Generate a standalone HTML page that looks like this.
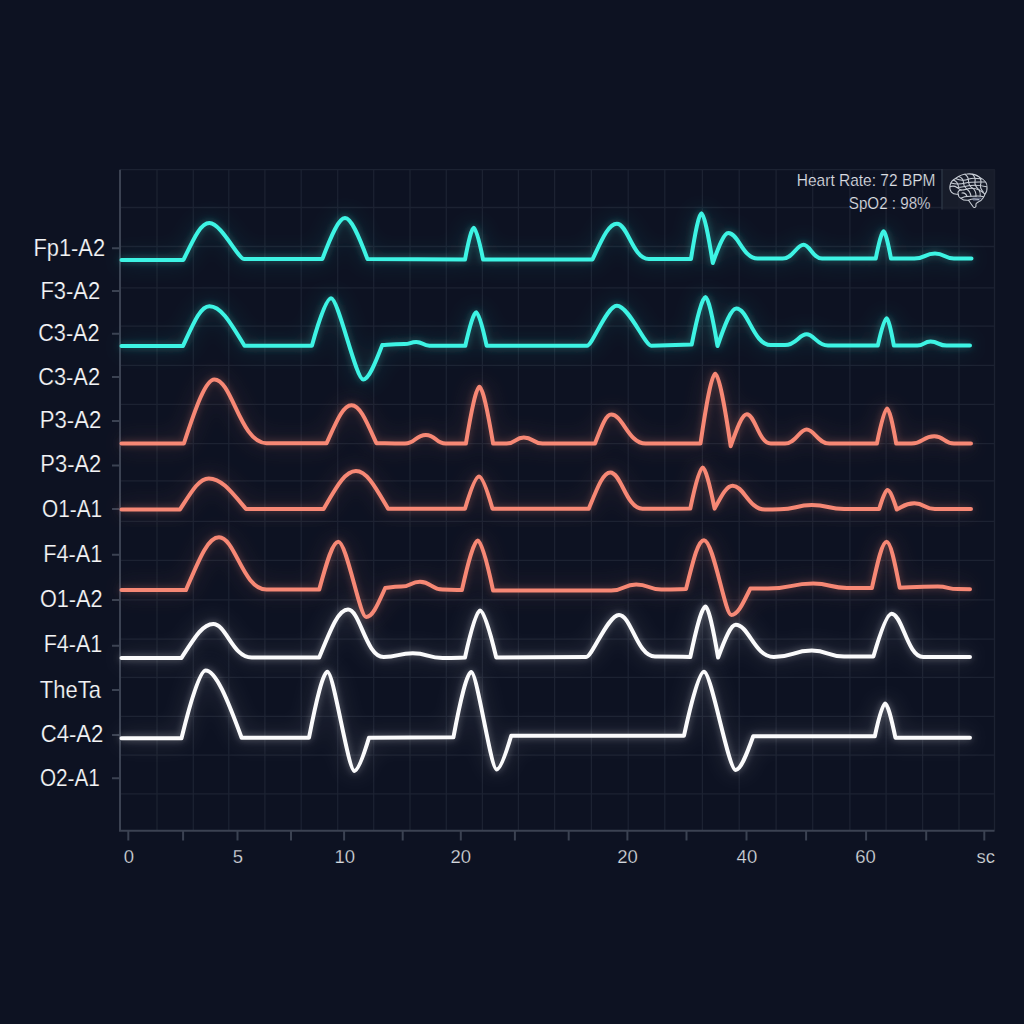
<!DOCTYPE html>
<html><head><meta charset="utf-8"><style>
html,body{margin:0;padding:0;background:#0d1222;width:1024px;height:1024px;overflow:hidden}
svg{display:block}
text{font-family:"Liberation Sans",sans-serif}
.yl{font-size:24px;fill:#f3f4f6;stroke:#0d1222;stroke-width:0.2px}
.xl{font-size:18.5px;fill:#d4d8de;stroke:#0d1222;stroke-width:0.25px}
.hd{font-size:16px;fill:#dcdfe4;stroke:#0d1222;stroke-width:0.2px}
</style></head><body>
<svg width="1024" height="1024" viewBox="0 0 1024 1024">
<defs>
<filter id="glow" x="-10%" y="-40%" width="120%" height="180%">
<feGaussianBlur in="SourceGraphic" stdDeviation="3.5" result="b1"/>
<feComponentTransfer in="b1" result="c1"><feFuncA type="linear" slope="0.35"/></feComponentTransfer>
<feGaussianBlur in="SourceGraphic" stdDeviation="11" result="b2"/>
<feComponentTransfer in="b2" result="c2"><feFuncA type="linear" slope="0.3"/></feComponentTransfer>
<feMerge><feMergeNode in="c2"/><feMergeNode in="c1"/><feMergeNode in="SourceGraphic"/></feMerge>
</filter>
</defs>
<rect width="1024" height="1024" fill="#0d1222"/>
<path d="M120,169.7H994.5M120,207.5H994.5M120,246.5H994.5M120,287.8H994.5M120,326.2H994.5M120,365.4H994.5M120,404.4H994.5M120,443.6H994.5M120,480.9H994.5M120,521.3H994.5M120,560.3H994.5M120,599.9H994.5M120,639.1H994.5M120,677.3H994.5M120,716.4H994.5M120,755.1H994.5M120,793.9H994.5M157.0,169.7V830.7M193.3,169.7V830.7M228.8,169.7V830.7M264.9,169.7V830.7M301.2,169.7V830.7M337.7,169.7V830.7M373.7,169.7V830.7M410.0,169.7V830.7M446.3,169.7V830.7M482.4,169.7V830.7M518.4,169.7V830.7M554.6,169.7V830.7M591.4,169.7V830.7M628.2,169.7V830.7M664.8,169.7V830.7M702.4,169.7V830.7M739.2,169.7V830.7M776.1,169.7V830.7M812.7,169.7V830.7M849.9,169.7V830.7M886.1,169.7V830.7M922.6,169.7V830.7M959.0,169.7V830.7M994.5,169.7V830.7" stroke="#1c2232" stroke-width="1.3" fill="none"/>
<path d="M120,169.7V830.7H994.5" stroke="#3b4252" stroke-width="2" fill="none"/>
<path d="M112,248.2H120M112,291.1H120M112,333.7H120M112,377.1H120M112,421.1H120M112,465.4H120M112,509.0H120M112,554.7H120M112,599.9H120M112,645.8H120M112,690H120M112,735H120M112,778.3H120M128.3,830.7V840.5M183.1,830.7V840.5M237.5,830.7V840.5M291,830.7V840.5M344.1,830.7V840.5M402.7,830.7V840.5M460.8,830.7V840.5M514.9,830.7V840.5M568.7,830.7V840.5M627.4,830.7V840.5M686.5,830.7V840.5M746.5,830.7V840.5M806.1,830.7V840.5M866.1,830.7V840.5M926.2,830.7V840.5M984.3,830.7V840.5" stroke="#3b4252" stroke-width="2" fill="none"/>
<path transform="translate(0,0.6)" d="M121.5,259.3L183.4,259.3C193.8,237.9 200.6,222.4 209.4,222.4C221.3,222.4 238.1,258.5 244.4,258.5L322.4,258.3C331.4,234.6 338.7,217.5 345.0,217.5C351.3,217.5 358.5,234.7 367.5,258.5L465.0,259.0C468.5,240.6 471.7,227.2 473.8,227.2C475.9,227.2 479.4,240.6 483.1,259.0L592.5,258.8C602.3,238.1 608.6,223.1 616.9,223.1C627.7,223.1 632.8,258.4 648.8,258.4C669.9,258.4 674.1,258.4 691.0,258.3C695.2,231.8 699.0,212.6 701.4,212.6C704.0,212.6 708.2,233.5 712.8,262.4C719.0,245.1 724.0,232.5 728.3,232.5C738.3,232.5 743.0,258.0 757.6,258.0C770.0,258.0 770.0,258.0 782.5,258.0C793.0,258.0 796.4,244.2 803.6,244.2C809.9,244.2 812.9,258.0 822.1,258.0C848.9,258.0 854.3,258.0 875.7,258.0C878.9,242.2 881.8,230.7 883.6,230.7C885.3,230.7 888.0,242.2 891.0,258.0C900.4,258.0 902.7,258.0 914.4,258.0C924.7,258.0 924.7,253.0 935.0,253.0C944.5,253.0 944.5,258.0 954.0,258.0C962.8,258.0 964.5,258.0 971.5,258.0" stroke="#3ef4e4" stroke-width="4" fill="none" stroke-linecap="round" stroke-linejoin="round" filter="url(#glow)"/>
<path transform="translate(0,0.1)" d="M121.5,345.9L183.0,345.9C193.6,322.8 200.4,306.1 209.4,306.1C221.3,306.1 230.5,322.7 244.5,345.6L311.9,345.6C319.5,318.1 326.6,298.2 331.0,298.2C338.4,298.2 355.8,379.3 363.2,379.3C368.5,379.3 374.6,364.9 382.2,345.0C391.1,344.4 393.3,344.0 404.4,344.0C410.3,344.0 410.3,341.9 416.2,341.9C422.8,341.9 422.8,345.6 429.4,345.6C447.4,345.6 450.9,345.6 465.3,345.6C469.7,326.2 473.7,312.2 476.2,312.2C478.6,312.2 482.5,326.2 486.6,345.6L587.0,345.6C592.4,345.6 606.7,305.6 616.9,305.6C628.6,305.6 645.1,345.6 651.2,345.6L691.7,344.5C697.2,316.9 702.3,297.0 705.5,297.0C708.3,297.0 712.7,317.5 717.5,345.9C725.0,324.1 731.0,308.4 736.3,308.4C748.0,308.4 753.5,345.0 770.8,345.0C777.9,345.0 777.9,345.0 785.0,345.0C795.8,345.0 799.3,334.2 806.6,334.2C813.9,334.2 817.3,345.5 828.0,345.5C852.9,345.5 857.9,345.5 877.8,345.5C881.3,329.6 884.6,318.1 886.6,318.1C888.3,318.1 891.0,329.6 893.9,345.5C903.3,345.5 905.6,345.5 917.3,345.5C923.9,345.5 923.9,341.5 930.5,341.5C938.5,341.5 938.5,345.5 946.6,345.5C958.3,345.5 960.6,345.5 970.0,345.5" stroke="#3ef4e4" stroke-width="4" fill="none" stroke-linecap="round" stroke-linejoin="round" filter="url(#glow)"/>
<path transform="translate(0,0.6)" d="M121.5,442.9L183.9,442.9C196.1,405.7 205.8,378.8 214.3,378.8C232.0,378.8 240.4,442.6 266.5,442.6C296.6,442.6 302.6,442.6 326.6,442.6C336.6,420.6 343.0,404.6 351.5,404.6C360.0,404.6 366.4,420.6 376.4,442.6C387.8,442.8 390.7,443.0 405.0,443.0C415.4,443.0 415.4,434.4 425.9,434.4C435.8,434.4 435.8,443.0 445.6,443.0C455.8,443.0 457.8,443.0 465.9,443.0C471.3,410.1 476.3,386.2 479.4,386.2C482.6,386.2 487.6,410.1 493.1,443.0C498.5,443.0 499.9,443.0 506.6,443.0C515.2,443.0 515.2,436.9 523.8,436.9C533.1,436.9 533.1,443.0 542.5,443.0C568.8,443.0 574.0,443.0 595.0,443.0C601.5,426.2 605.7,414.0 611.2,414.0C622.9,414.0 628.4,443.0 645.6,443.0C673.0,443.0 678.5,443.0 700.5,442.9C706.4,402.5 711.8,373.2 715.2,373.2C718.8,373.2 724.5,403.6 730.7,445.6C737.1,427.0 742.3,413.6 746.8,413.6C755.0,413.6 758.8,442.9 770.8,442.9C777.9,442.9 777.9,443.0 785.0,443.0C795.8,443.0 799.3,428.9 806.6,428.9C814.4,428.9 818.0,443.0 829.4,443.0C853.1,443.0 857.9,443.0 876.9,443.0C881.0,422.6 884.8,407.8 887.1,407.8C889.2,407.8 892.6,422.6 896.2,443.0C902.3,443.0 903.9,443.0 911.5,443.0C922.9,443.0 922.9,435.6 934.3,435.6C944.1,435.6 944.1,443.0 954.0,443.0C962.5,443.0 964.2,443.0 971.0,443.0" stroke="#f78874" stroke-width="4" fill="none" stroke-linecap="round" stroke-linejoin="round" filter="url(#glow)"/>
<path transform="translate(0,0.0)" d="M121.5,509.5L180.0,509.5C191.5,491.5 199.0,478.4 208.8,478.4C221.4,478.4 231.1,491.3 246.0,509.0L323.6,509.0C336.5,487.0 344.9,471.1 355.9,471.1C366.8,471.1 375.2,486.9 388.1,508.8L465.0,508.8C470.6,490.1 475.8,476.6 479.0,476.6C482.1,476.6 487.1,490.1 492.5,508.8L588.8,508.8C597.4,487.7 603.0,472.5 610.3,472.5C621.2,472.5 626.4,508.8 642.5,508.8C666.4,508.8 671.2,508.7 690.3,508.6C695.2,484.8 699.8,467.6 702.6,467.6C705.4,467.6 709.8,484.8 714.6,508.6C721.8,495.3 726.5,485.7 732.7,485.7C743.7,485.7 748.9,509.5 765.0,509.5C772.5,509.5 772.5,509.3 780.0,509.3C795.9,509.3 795.9,505.1 811.8,505.1C828.0,505.1 828.0,509.0 844.1,509.0C861.7,509.0 865.2,509.0 879.2,509.0C882.5,498.0 885.5,490.1 887.4,490.1C890.0,490.1 893.0,498.2 896.8,509.5C903.8,505.9 905.6,503.3 914.4,503.3C924.6,503.3 924.6,509.0 934.9,509.0C953.0,509.0 956.6,509.0 971.0,509.0" stroke="#f78874" stroke-width="4" fill="none" stroke-linecap="round" stroke-linejoin="round" filter="url(#glow)"/>
<path transform="translate(0,0.6)" d="M121.5,589.5L185.9,589.5C199.1,558.9 207.7,536.7 219.0,536.7C235.2,536.7 242.8,588.9 266.5,588.9C292.9,588.9 298.1,588.9 319.2,589.0C326.8,561.2 332.6,541.1 338.3,541.1C346.6,541.1 359.7,616.4 366.1,616.4C372.6,616.4 377.6,604.2 385.2,587.4C391.6,586.6 393.2,586.0 401.3,586.0C410.6,586.0 410.6,581.2 420.0,581.2C431.2,581.2 431.2,589.0 442.5,589.0C452.2,589.0 454.1,589.2 461.9,589.5C468.3,560.8 474.1,540.0 477.8,540.0C481.3,540.0 487.0,561.0 493.1,590.0C540.4,590.0 552.2,590.0 611.2,590.0C623.8,590.0 623.8,583.8 636.2,583.8C648.8,583.8 648.8,589.0 661.2,589.0C673.6,589.0 676.1,588.8 686.0,588.5C693.2,560.1 697.9,539.6 704.0,539.6C713.3,539.6 725.0,614.4 731.3,614.4C737.8,614.4 742.7,603.3 750.3,588.0C757.3,588.0 759.1,588.0 767.9,588.0C790.6,588.0 790.6,583.0 813.3,583.0C830.1,583.0 830.1,587.4 847.0,587.4C859.5,587.4 861.9,587.4 871.9,587.5C877.8,560.6 882.2,541.1 886.6,541.1C890.5,541.1 894.5,560.4 899.7,587.1C914.9,586.5 918.8,586.0 937.8,586.0C947.9,586.0 947.9,588.5 958.0,588.5C964.0,588.5 965.2,588.5 970.0,588.6" stroke="#f78874" stroke-width="4" fill="none" stroke-linecap="round" stroke-linejoin="round" filter="url(#glow)"/>
<path transform="translate(0,0.5)" d="M121.5,657.4L181.5,657.4C194.2,637.7 202.4,623.4 213.2,623.4C226.3,623.4 232.5,657.1 251.8,657.1C285.5,657.1 292.2,657.1 319.2,657.0C330.7,629.2 338.2,609.1 348.0,609.1C360.1,609.1 365.9,656.5 383.7,656.5C398.2,656.5 398.2,652.8 412.8,652.8C427.6,652.8 427.6,657.5 442.5,657.5C453.8,657.5 456.0,657.3 465.0,657.0C471.0,629.7 476.6,610.0 480.0,610.0C483.7,610.0 489.8,629.7 496.2,656.9L586.2,656.5C592.1,656.5 607.9,614.4 619.0,614.4C631.2,614.4 637.0,656.0 655.0,656.0C672.6,656.0 676.2,656.2 690.3,656.5C696.4,627.3 702.0,606.1 705.5,606.1C708.4,606.1 713.1,627.5 718.1,657.1C725.1,638.1 730.8,624.3 735.7,624.3C748.7,624.3 754.8,656.5 773.8,656.5C792.8,656.5 792.8,650.1 811.8,650.1C828.0,650.1 828.0,656.0 844.1,656.0C858.8,656.0 861.7,656.0 873.4,656.0C880.6,631.2 887.3,613.2 891.5,613.2C902.3,613.2 907.4,656.5 923.2,656.5C946.6,656.5 951.3,656.5 970.0,656.5" stroke="#fbfbfc" stroke-width="4" fill="none" stroke-linecap="round" stroke-linejoin="round" filter="url(#glow)"/>
<path transform="translate(0,0.1)" d="M121.5,738.2L181.5,738.2C191.1,698.8 200.1,670.3 205.6,670.3C215.7,670.3 227.2,698.6 241.6,737.6L309.0,737.6C316.4,699.4 323.2,671.7 327.4,671.7C333.6,671.7 348.2,770.8 354.4,770.8C357.8,770.8 363.2,756.9 369.0,737.6L453.4,737.2C460.5,699.3 467.1,671.9 471.2,671.9C477.1,671.9 490.8,769.4 496.6,769.4C500.0,769.4 505.4,755.2 511.2,735.6L684.0,735.6C692.0,698.5 699.4,671.7 704.0,671.7C711.3,671.7 728.4,769.9 735.7,769.9C740.6,769.9 746.2,755.7 753.2,736.2L874.8,736.2C878.9,717.2 882.7,703.4 885.1,703.4C887.5,703.4 891.3,717.8 895.4,737.6L970.0,737.6" stroke="#fbfbfc" stroke-width="4" fill="none" stroke-linecap="round" stroke-linejoin="round" filter="url(#glow)"/>
<text transform="translate(33.44,255.50) scale(0.9104,1)" class="yl">Fp1-A2</text>
<text transform="translate(40.43,298.80) scale(0.9150,1)" class="yl">F3-A2</text>
<text transform="translate(38.18,341.10) scale(0.9031,1)" class="yl">C3-A2</text>
<text transform="translate(38.17,384.80) scale(0.9099,1)" class="yl">C3-A2</text>
<text transform="translate(39.72,428.10) scale(0.9223,1)" class="yl">P3-A2</text>
<text transform="translate(40.34,472.30) scale(0.9128,1)" class="yl">P3-A2</text>
<text transform="translate(42.12,516.90) scale(0.8664,1)" class="yl">O1-A1</text>
<text transform="translate(43.15,562.20) scale(0.9053,1)" class="yl">F4-A1</text>
<text transform="translate(39.88,607.10) scale(0.9035,1)" class="yl">O1-A2</text>
<text transform="translate(43.67,652.40) scale(0.8973,1)" class="yl">F4-A1</text>
<text transform="translate(39.86,697.70) scale(0.9164,1)" class="yl">TheTa</text>
<text transform="translate(40.66,742.10) scale(0.9219,1)" class="yl">C4-A2</text>
<text transform="translate(39.92,786.30) scale(0.8649,1)" class="yl">O2-A1</text>
<text x="128.80" y="863.1" text-anchor="middle" class="xl">0</text>
<text x="237.90" y="863.1" text-anchor="middle" class="xl">5</text>
<text x="344.85" y="863.1" text-anchor="middle" class="xl">10</text>
<text x="460.75" y="863.1" text-anchor="middle" class="xl">20</text>
<text x="627.50" y="863.1" text-anchor="middle" class="xl">20</text>
<text x="746.90" y="863.1" text-anchor="middle" class="xl">40</text>
<text x="865.50" y="863.1" text-anchor="middle" class="xl">60</text>
<text x="985.85" y="863.1" text-anchor="middle" class="xl">sc</text>
<text transform="translate(796.79,185.60) scale(0.9690,1)" class="hd">Heart Rate: 72 BPM</text>
<text transform="translate(848.81,208.50) scale(0.9492,1)" class="hd">SpO2 : 98%</text>
<rect x="942" y="169" width="53" height="40.5" fill="#1a1f2d" fill-opacity="0.8"/>
<path d="M942,169V209.5" stroke="#2a3342" stroke-width="1.5"/>
<g fill="none" stroke="#c9ced6" stroke-width="1.05" stroke-linejoin="round" stroke-linecap="round">
<path d="M951.4,192.1C948.5,188.5 949.5,181.5 955.5,178.5C959.5,175.5 963,174 967.1,174C972,173.5 976.5,175 979.4,177.1C984,179.5 987.5,183 987,187.3C987.3,190.5 986.5,192.5 984.9,194.2C984.5,196.5 983.5,197.5 982.8,198.3C981.5,200.5 980,201.5 978.7,201.7C977.5,202.5 976.5,203 976,203.7L975.9,206.5C975.5,207.5 973.8,207.8 973.3,207L968.5,200.3C965,200.5 962.5,199.8 961,198.3C959,197.5 958.3,195.8 958.2,194.2C955.5,194.5 952.8,193.8 951.4,192.1Z"/>
<path d="M958.2,194.2C957.3,191.8 959,190 961.5,190C965,190 967.5,188.5 971,188.3C976,188 981,190.5 984.9,194.2"/>
<path d="M961,198.3C963.5,196.5 968,196 972,196.2C976,196.3 980,195.5 983.5,196.8"/>
<path d="M968.5,200.3C971,199 974.5,198.8 978.7,199.5"/>
<path d="M950.5,186.5C953,185.8 955,186 957,187.5C959,189 960,190 961.5,190"/>
<path d="M953.5,180.2C956.5,181 958,183.5 958.5,186.5"/>
<path d="M958.5,176.5C962,177.5 963.5,180 963.5,183C963.5,185 964.5,187 966.5,188.8"/>
<path d="M965,174.3C967.5,176 968.5,178.5 968.5,181C968.5,184 970,186.5 972.5,188.2"/>
<path d="M972.5,174.4C975,176.5 975.5,179 975,182C974.5,184.5 976,187 978.5,189.3"/>
<path d="M979.4,177.1C981,179.5 981.5,182 980.5,185C980,187.5 981.5,190 983.5,192.3"/>
<path d="M955.5,178.5C959.5,180.5 965,180.5 969,179C973,177.5 978,178.5 981.5,179"/>
<path d="M951,183C956,184.5 961,184.2 965.5,183C970.5,181.7 977,182 984.5,182"/>
<path d="M957,187.5C962,187.3 966,186 971,185.5C976,185 981,185.5 986.5,186.8"/>
<path d="M962,193C964,192.5 966,194 967,196.2M966.5,189C969,190.5 970.5,193 971,196.2M973,188.4C975,190 976,193 976,196.2M979,189.6C980,191.5 980.5,193.5 980.2,195.8"/>
</g>
<g fill="none" stroke="#8d97b5" stroke-width="0.8"><path d="M972.5,198.2H981.5M973,200H980"/></g>
</svg>
</body></html>
